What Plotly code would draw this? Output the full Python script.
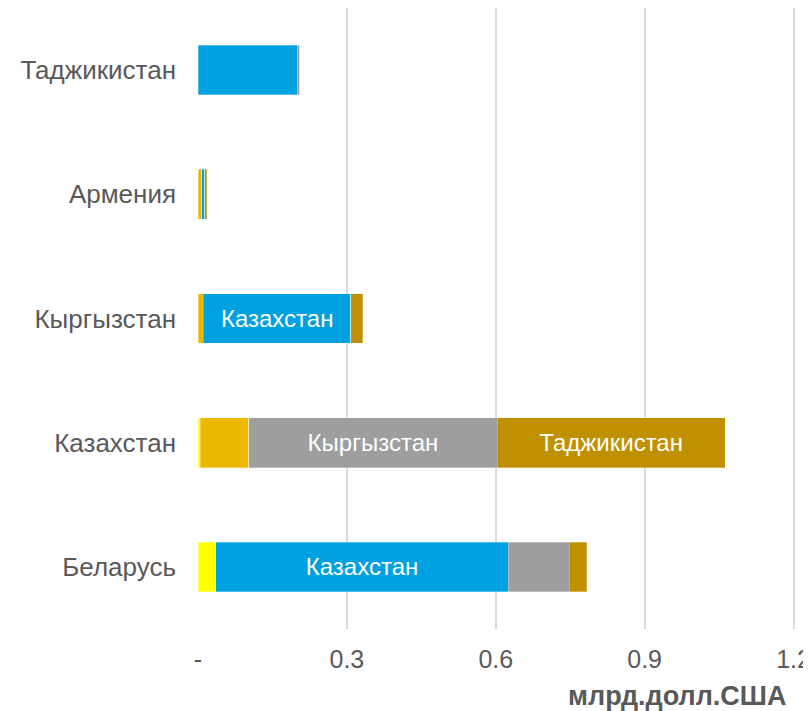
import plotly.graph_objects as go

# Exporting countries (rows, bottom to top)
countries = ["Беларусь", "Казахстан", "Кыргызстан", "Армения", "Таджикистан"]

# Destination series (stack order), values in bn USD
series_names = ["Армения", "Беларусь", "Казахстан", "Кыргызстан", "Таджикистан"]
armenia = [0.036, 0.005, 0.0, 0.0, 0.0]
belarus = [0.0, 0.097, 0.011, 0.008, 0.0]
kazakhstan = [0.589, 0.0, 0.297, 0.006, 0.200]
kyrgyzstan = [0.123, 0.501, 0.0, 0.0, 0.005]
tajikistan = [0.035, 0.459, 0.024, 0.004, 0.0]

# Which segments carry a series-name label
label_armenia = [False, False, False, False, False]
label_belarus = [False, False, False, False, False]
label_kazakhstan = [True, False, True, False, False]
label_kyrgyzstan = [False, True, False, False, False]
label_tajikistan = [False, True, False, False, False]

tick_vals = [0, 0.3, 0.6, 0.9, 1.2]
tick_text = ["-", "0.3", "0.6", "0.9", "1.2"]
axis_title = "млрд.долл.США"

colors = ["#FFFF00", "#EDB800", "#00A1E0", "#9E9E9E", "#BF9000"]
values = [armenia, belarus, kazakhstan, kyrgyzstan, tajikistan]
labels = [label_armenia, label_belarus, label_kazakhstan, label_kyrgyzstan, label_tajikistan]

FONT = "Liberation Sans, Arial, sans-serif"

fig = go.Figure()
for name, vals, col, lab in zip(series_names, values, colors, labels):
    fig.add_trace(go.Bar(
        y=countries, x=vals, name=name, orientation="h",
        marker=dict(color=col, line=dict(color="rgba(255,255,255,0.6)", width=0.5)),
        text=[name if f else "" for f in lab],
        textposition="inside", insidetextanchor="middle",
        textfont=dict(color="white", size=24, family=FONT),
        constraintext="none",
        hoverinfo="x+y+name",
    ))

# The page adds an 8px body margin, so the figure is sized to the remaining area
fig.update_layout(
    barmode="stack", bargap=0.6,
    width=803, height=703,
    margin=dict(l=190, r=13, t=0, b=82),
    plot_bgcolor="white", paper_bgcolor="white",
    showlegend=False,
    font=dict(family=FONT, color="#595959", size=25),
)
fig.update_xaxes(
    range=[0, 1.205], tickvals=tick_vals, ticktext=tick_text,
    showgrid=True, gridcolor="#D9D9D9", gridwidth=2,
    zeroline=False, showline=False,
    tickfont=dict(size=25, color="#595959"),
    ticks="", ticklabelstandoff=13, ticklabeloverflow="allow",
)
fig.update_yaxes(
    showgrid=False, zeroline=False, showline=False,
    tickfont=dict(size=26, color="#595959"),
    ticks="", ticklabelstandoff=21,
)
fig.add_annotation(
    text="<b>" + axis_title + "</b>", xref="paper", yref="paper",
    x=1.0, xanchor="right", y=0, yanchor="top", yshift=-50, xshift=-8,
    showarrow=False, font=dict(size=27, color="#595959", family=FONT),
)

fig.write_html("out.html")
